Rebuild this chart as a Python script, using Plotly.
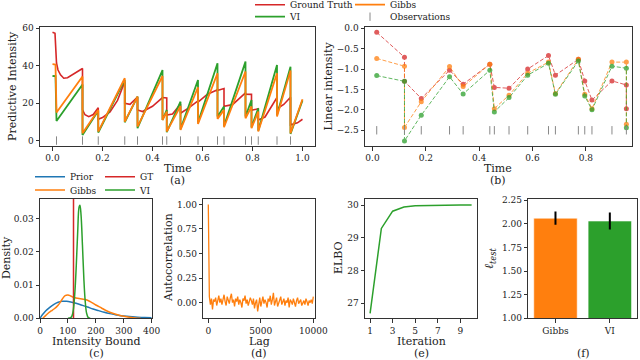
import plotly.graph_objects as go

# ---------------- data ----------------
obs_times = [0.016, 0.12, 0.183, 0.289, 0.34, 0.44, 0.457, 0.512, 0.582,
             0.66, 0.686, 0.772, 0.796, 0.823, 0.898, 0.952]

# (a) predictive intensity
gt_t = [0.000, 0.010, 0.016, 0.022, 0.032, 0.045, 0.060, 0.080, 0.100, 0.120,
        0.120, 0.130, 0.145, 0.163, 0.183, 0.183, 0.200, 0.230, 0.260, 0.289,
        0.289, 0.310, 0.340, 0.340, 0.360, 0.400, 0.440, 0.457, 0.457, 0.480,
        0.512, 0.512, 0.545, 0.582, 0.582, 0.620, 0.660, 0.660, 0.686, 0.686,
        0.720, 0.772, 0.772, 0.796, 0.796, 0.823, 0.823, 0.850, 0.898, 0.898,
        0.925, 0.952, 0.952, 0.980, 1.000]
gt_v = [57.9, 57.3, 41.5, 37.7, 35.1, 33.3, 33.6, 35.1, 37.0, 38.5,
        16.4, 13.8, 12.8, 13.9, 17.5, 11.4, 12.3, 15.3, 21.5, 31.5,
        19.9, 19.4, 23.3, 16.4, 15.5, 18.3, 23.0, 22.8, 13.7, 14.2,
        19.5, 14.6, 17.5, 21.2, 20.5, 24.8, 27.2, 26.8, 27.8, 18.3,
        19.2, 25.5, 24.8, 24.7, 16.2, 17.0, 11.0, 12.6, 23.0, 17.0,
        19.3, 23.2, 8.4, 9.5, 11.4]

gibbs_t = [0.000, 0.012, 0.016, 0.060, 0.120, 0.120, 0.183, 0.183, 0.289, 0.289,
           0.340, 0.340, 0.440, 0.440, 0.457, 0.457, 0.512, 0.512, 0.582, 0.582,
           0.660, 0.660, 0.686, 0.686, 0.772, 0.772, 0.796, 0.796, 0.823, 0.823,
           0.898, 0.898, 0.952, 0.952, 1.000]
gibbs_v = [40.8, 40.6, 15.0, 23.0, 34.2, 3.9, 16.4, 4.8, 33.3, 10.1,
           23.5, 7.5, 34.5, 11.0, 15.5, 4.8, 18.5, 5.7, 28.5, 8.9,
           36.0, 11.6, 16.4, 7.1, 36.9, 11.9, 18.2, 6.6, 15.5, 4.8,
           36.0, 12.8, 37.4, 3.9, 22.1]

vi_t = [0.000, 0.012, 0.016, 0.060, 0.120, 0.120, 0.183, 0.183, 0.289, 0.289,
        0.340, 0.340, 0.440, 0.440, 0.457, 0.457, 0.512, 0.512, 0.582, 0.582,
        0.660, 0.660, 0.686, 0.686, 0.772, 0.772, 0.796, 0.796, 0.823, 0.823,
        0.898, 0.898, 0.952, 0.952, 1.000]
vi_v = [34.5, 34.4, 10.5, 19.0, 30.0, 3.0, 16.0, 4.3, 32.4, 9.8,
        23.5, 6.6, 37.7, 11.0, 16.4, 4.5, 20.8, 6.1, 32.4, 9.6,
        41.3, 12.8, 18.2, 7.8, 42.2, 12.8, 21.7, 7.1, 17.3, 5.3,
        40.4, 13.7, 39.5, 3.6, 21.5]

# (b) linear intensity at observations
lin_t = [0.016, 0.12, 0.12, 0.183, 0.289, 0.34, 0.44, 0.457, 0.512, 0.582,
         0.66, 0.686, 0.772, 0.796, 0.823, 0.898, 0.952, 0.952]
lin_gt = [-0.10, -0.71, -1.30, -1.72, -1.03, -1.37, -0.88, -1.45, -1.47, -1.00,
          -0.67, -1.15, -0.76, -1.29, -1.76, -1.29, -1.39, -1.97]
lin_gibbs = [-0.74, -0.93, -2.43, -1.80, -0.94, -1.43, -0.88, -1.97, -1.64, -1.10,
             -0.83, -1.60, -0.76, -1.62, -1.97, -0.83, -0.83, -2.35]
lin_vi = [-1.16, -1.30, -2.76, -2.13, -1.19, -1.61, -1.03, -2.05, -1.70, -1.15,
          -0.86, -1.62, -0.80, -1.66, -2.00, -0.93, -0.98, -2.44]

# (c) intensity bound densities
prior_x = [0, 10, 20, 35, 50, 65, 80, 95, 110, 125, 140, 155, 170, 190, 210,
           230, 250, 270, 290, 310, 330, 350, 375, 400]
prior_y = [0.0, 0.0012, 0.0022, 0.0033, 0.0042, 0.0048, 0.0051, 0.0051, 0.0049,
           0.0046, 0.0042, 0.0038, 0.0034, 0.0028, 0.0023, 0.0018, 0.0014,
           0.0011, 0.0008, 0.0006, 0.00045, 0.00033, 0.00022, 0.00015]
gibbs_bx = [10, 20, 30, 40, 50, 60, 70, 80, 90, 100, 110, 120, 135, 150, 165,
            180, 200, 220, 240, 260, 280, 300, 320, 340, 360]
gibbs_by = [0.0, 0.0008, 0.0016, 0.0022, 0.0028, 0.0035, 0.0045, 0.0058, 0.0068,
            0.0070, 0.0067, 0.0063, 0.0060, 0.0058, 0.0056, 0.0050, 0.0040,
            0.0031, 0.0022, 0.0015, 0.0010, 0.0006, 0.0003, 0.0001, 0.0]
vi_bx = [100, 110, 115, 120, 125, 130, 135, 140, 143, 147, 152, 157, 162, 167, 173, 180]
vi_by = [0.0, 0.0002, 0.0008, 0.003, 0.008, 0.016, 0.026, 0.0335, 0.034, 0.031,
         0.022, 0.012, 0.005, 0.0015, 0.0002, 0.0]
gt_bound = 120

# (d) autocorrelation
acf_lag = list(range(0, 10001, 100))
acf_val = [1.0,
           0.06, -0.02, 0.04, -0.07, 0.03, 0.01, 0.05, -0.03, 0.02, 0.07,
           0.00, 0.04, -0.02, 0.05, 0.08, 0.01, -0.03, 0.06, 0.02, -0.01,
           0.05, 0.09, 0.00, 0.03, -0.04, 0.04, 0.01, 0.06, -0.02, 0.03,
           0.00, -0.05, 0.04, 0.02, 0.07, -0.01, 0.03, -0.03, 0.01, 0.05,
           0.02, -0.02, 0.04, -0.06, 0.00, 0.03, -0.09, 0.01, 0.05, -0.04,
           0.02, 0.06, -0.01, 0.03, 0.00, -0.05, 0.04, 0.01, 0.07, -0.02,
           0.03, 0.10, -0.03, 0.02, 0.05, -0.04, 0.00, 0.03, 0.06, -0.02,
           0.01, 0.04, -0.03, 0.02, 0.00, 0.05, -0.05, 0.03, 0.01, -0.02,
           0.04, 0.00, -0.04, 0.02, 0.05, -0.01, 0.01, 0.03, -0.03, 0.00,
           0.02, -0.02, 0.04, 0.01, -0.03, 0.02, 0.00, 0.03, -0.01, 0.06]
acf_ticks = [0, 5000, 10000]

# (e) ELBO
iterations = [1, 2, 3, 4, 5, 6, 7, 8, 9, 10]
elbo = [26.68, 29.29, 29.82, 29.95, 29.99, 30.0, 30.005, 30.008, 30.01, 30.01]

# (f) test log-likelihood
methods = ["Gibbs", "VI"]
ltest = [2.06, 2.03]
ltest_err = [0.07, 0.09]

# ---------------- style ----------------
RED, ORANGE, GREEN, BLUE = "#d62728", "#ff7f0e", "#2ca02c", "#1f77b4"
FONT = "DejaVu Serif"
W, H = 640, 360


def px(x):
    return x / W


def py(y):
    return 1 - y / H


fig = go.Figure()

# (a)
fig.add_trace(go.Scatter(x=gt_t, y=gt_v, mode="lines", name="Ground Truth",
                         line=dict(color=RED, width=1.6), xaxis="x", yaxis="y",
                         legend="legend"))
fig.add_trace(go.Scatter(x=vi_t, y=vi_v, mode="lines", name="VI",
                         line=dict(color=GREEN, width=1.8), xaxis="x", yaxis="y",
                         legend="legend2"))
fig.add_trace(go.Scatter(x=gibbs_t, y=gibbs_v, mode="lines", name="Gibbs",
                         line=dict(color=ORANGE, width=1.8), xaxis="x", yaxis="y",
                         legend="legend"))
fig.add_trace(go.Scatter(x=obs_times, y=[0] * len(obs_times), mode="markers",
                         name="Observations",
                         marker=dict(symbol="line-ns-open", size=6, color="#888888",
                                     line=dict(width=1, color="#888888")),
                         xaxis="x", yaxis="y", legend="legend2"))

# (b)
for vals, col in [(lin_gt, RED), (lin_gibbs, ORANGE), (lin_vi, GREEN)]:
    fig.add_trace(go.Scatter(x=lin_t, y=vals, mode="lines+markers", showlegend=False,
                             opacity=0.75,
                             line=dict(color=col, width=1, dash="4px,2px"),
                             marker=dict(size=5, color=col),
                             xaxis="x2", yaxis="y2"))
fig.add_trace(go.Scatter(x=obs_times, y=[-2.5] * len(obs_times), mode="markers",
                         showlegend=False,
                         marker=dict(symbol="line-ns-open", size=6, color="#888888",
                                     line=dict(width=1, color="#888888")),
                         xaxis="x2", yaxis="y2"))

# (c)
fig.add_trace(go.Scatter(x=prior_x, y=prior_y, mode="lines", name="Prior",
                         line=dict(color=BLUE, width=1.5, shape="spline"),
                         xaxis="x3", yaxis="y3", legend="legend3"))
fig.add_trace(go.Scatter(x=gibbs_bx, y=gibbs_by, mode="lines", name="Gibbs",
                         line=dict(color=ORANGE, width=1.5, shape="spline"),
                         xaxis="x3", yaxis="y3", legend="legend4"))
fig.add_trace(go.Scatter(x=[gt_bound, gt_bound], y=[0, 0.036], mode="lines", name="GT",
                         line=dict(color=RED, width=1.5),
                         xaxis="x3", yaxis="y3", legend="legend3"))
fig.add_trace(go.Scatter(x=vi_bx, y=vi_by, mode="lines", name="VI",
                         line=dict(color=GREEN, width=1.5, shape="spline"),
                         xaxis="x3", yaxis="y3", legend="legend4"))

# (d)
fig.add_trace(go.Scatter(x=acf_lag, y=acf_val, mode="lines", showlegend=False,
                         line=dict(color=ORANGE, width=1.3),
                         xaxis="x4", yaxis="y4"))

# (e)
fig.add_trace(go.Scatter(x=iterations, y=elbo, mode="lines", showlegend=False,
                         line=dict(color=GREEN, width=1.5),
                         xaxis="x5", yaxis="y5"))

# (f)
fig.add_trace(go.Bar(x=methods, y=ltest, showlegend=False, width=0.8,
                     marker=dict(color=[ORANGE, GREEN],
                                 line=dict(color="rgba(255,255,255,0.6)", width=1)),
                     error_y=dict(type="data", array=ltest_err, color="black",
                                  thickness=2, width=0),
                     xaxis="x6", yaxis="y6"))


def axis(domain, rng, anchor, tickvals=None, fmt=None, **kw):
    d = dict(domain=domain, range=rng, anchor=anchor, showline=True, mirror=True,
             linecolor="#333333", linewidth=1, ticks="outside", ticklen=3.5,
             tickwidth=1, tickcolor="#333333", showgrid=False, zeroline=False,
             automargin=False,
             tickfont=dict(family=FONT, size=9, color="#222222"))
    if tickvals is not None:
        d["tickvals"] = tickvals
    if fmt:
        d["tickformat"] = fmt
    d.update(kw)
    return d


top = [py(146), py(27)]
bot = [py(318.3), py(198.5)]

layout = dict(
    width=W, height=H, margin=dict(l=0, r=0, t=0, b=0, autoexpand=False),
    paper_bgcolor="white", plot_bgcolor="white",
    font=dict(family=FONT, size=11, color="#222222"),
    xaxis=axis([px(40), px(315)], [-0.05, 1.05], "y", [0, 0.2, 0.4, 0.6, 0.8, 1.0], ".1f"),
    yaxis=axis(top, [-2.9, 60.7], "x", [0, 20, 40, 60]),
    xaxis2=axis([px(365), px(631.7)], [-0.028, 0.972], "y2", [0, 0.2, 0.4, 0.6, 0.8], ".1f"),
    yaxis2=axis(top, [-2.885, 0.03], "x2", [0, -0.5, -1.0, -1.5, -2.0, -2.5], ".1f"),
    xaxis3=axis([px(40), px(151.7)], [0, 400], "y3", [0, 100, 200, 300, 400]),
    yaxis3=axis(bot, [0, 0.036], "x3", [0, 0.01, 0.02, 0.03], ".2f"),
    xaxis4=axis([px(203.3), px(315)], [-476, 10160], "y4", acf_ticks,
                ticktext=[str(v) for v in acf_ticks]),
    yaxis4=axis(bot, [-0.16, 1.06], "x4", [0, 0.25, 0.5, 0.75, 1.0], ".2f"),
    xaxis5=axis([px(365), px(476.7)], [0.55, 10.45], "y5", [1, 3, 5, 7, 9]),
    yaxis5=axis(bot, [26.53, 30.21], "x5", [27, 28, 29, 30]),
    xaxis6=axis([px(528.3), px(637)], [-0.5, 1.5], "y6", type="category"),
    yaxis6=axis(bot, [1.0, 2.268], "x6", [1.0, 1.25, 1.5, 1.75, 2.0, 2.25], ".2f"),
    bargap=0.2,
)

leg_common = dict(orientation="h", font=dict(family=FONT, size=9, color="#222222"),
                  bgcolor="rgba(0,0,0,0)", borderwidth=0, xanchor="left",
                  yanchor="middle", entrywidthmode="pixels",
                  xref="container", yref="container")
layout["legend"] = dict(leg_common, x=px(250), y=py(4.7), entrywidth=55)
layout["legend2"] = dict(leg_common, x=px(250), y=py(16.7), entrywidth=55)
layout["legend3"] = dict(leg_common, x=px(30), y=py(176.7), entrywidth=25)
layout["legend4"] = dict(leg_common, x=px(30), y=py(190), entrywidth=25)

ann = []


def text(x, y, s, angle=0, size=11):
    ann.append(dict(x=px(x), y=py(y), xref="paper", yref="paper", text=s,
                    showarrow=False, textangle=angle, xanchor="center",
                    yanchor="middle", font=dict(family=FONT, size=size, color="#222222")))


# y titles
text(12.5, 86.5, "Predictive Intensity", -90)
text(328, 86.5, "Linear intensity", -90)
text(6, 258, "Density", -90)
text(168, 258, "Autocorrelation", -90)
text(338, 258, "ELBO", -90)
text(490, 258, "<i>ℓ</i><sub><i>test</i></sub>", -90, 12)
# x titles + panel labels
text(177.5, 168.5, "Time")
text(177.5, 180.5, "(a)")
text(498, 168.5, "Time")
text(498, 180.5, "(b)")
text(96, 341.7, "Intensity Bound")
text(96, 353.5, "(c)")
text(259, 341.7, "Lag")
text(259, 353.5, "(d)")
text(421, 341.7, "Iteration")
text(421, 353.5, "(e)")
text(583, 353.5, "(f)")

layout["annotations"] = ann
fig.update_layout(**layout)
fig.write_html("out.html", config={"displayModeBar": False},
               post_script="document.body.style.margin='0';document.body.style.overflow='hidden';")
